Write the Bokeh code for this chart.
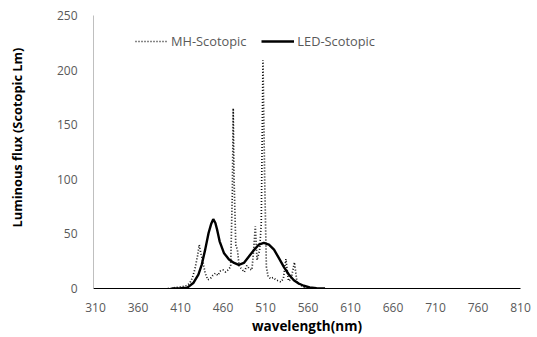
from bokeh.plotting import figure
from bokeh.models import Range1d, FixedTicker, Legend, LegendItem, Title, LinearAxis
from bokeh.embed import file_html
from bokeh.resources import INLINE

# ---- data ----
mh_wavelength = [395, 400, 405, 410, 415, 418, 421, 424, 427, 430, 432, 434, 436.5, 439, 442,
                 445, 448, 451, 454, 457, 460, 463, 466, 469, 471, 472, 473, 475, 477, 479,
                 482, 485, 488, 491, 494, 496, 498, 500, 503, 505, 507, 509, 511, 513, 516,
                 519, 522, 525, 528, 531, 534, 537, 540, 544, 547, 551, 556, 562, 570]
mh_scotopic = [0, 0.5, 1, 1.5, 2, 3, 5, 10, 18, 30, 40, 32, 24, 14, 8,
               9, 12, 14, 12, 16, 17, 15, 17, 20, 90, 165, 100, 40, 35, 20,
               18, 15, 21, 18, 17, 35, 57, 26, 35, 60, 209, 100, 20, 11, 9,
               10, 8, 7, 6, 9, 27, 7, 8, 24, 6, 3, 1, 0.5, 0]

led_wavelength = [400, 410, 418, 425, 431, 435, 439, 443, 446, 448.5, 451, 453, 456, 461, 467,
                  473, 478.5, 484.5, 490, 496, 502, 508, 514, 520, 525.6, 531.5, 537.4, 543.3,
                  549, 555, 562, 570, 580]
led_scotopic = [0, 0.2, 0.8, 5, 12.8, 21.9, 35.6, 50.8, 59, 63.5, 60, 54, 43.2, 32.6, 26.5,
                23.4, 21.6, 23.4, 28.9, 34.9, 40.1, 41.7, 40.1, 35.6, 28, 19.8, 12.8, 7.6,
                4.6, 2.5, 1, 0.3, 0]

x_ticks = [310, 360, 410, 460, 510, 560, 610, 660, 710, 760, 810]
y_ticks = [0, 50, 100, 150, 200, 250]
x_title = "wavelength(nm)"
y_title = "Luminous flux (Scotopic Lm)"

x_lo, x_hi = 307.6, 810
p = figure(width=537, height=337, output_backend="svg", toolbar_location=None,
           x_range=Range1d(x_lo, x_hi), y_range=Range1d(0, 250),
           min_border_left=93, min_border_right=17, min_border_top=15, min_border_bottom=48)
p.outline_line_color = None
p.xgrid.grid_line_color = None
p.ygrid.grid_line_color = None

r_mh = p.line(mh_wavelength, mh_scotopic, line_color="#111111", line_width=1.7, line_dash="1 2")
r_led = p.line(led_wavelength, led_scotopic, line_color="black", line_width=2.4)

tick_font = "Open Sans"
p.xaxis.ticker = FixedTicker(ticks=x_ticks)
p.yaxis.ticker = FixedTicker(ticks=y_ticks)
for ax in (p.xaxis[0], p.yaxis[0]):
    ax.major_tick_line_color = None
    ax.minor_tick_line_color = None
    ax.major_label_text_font = tick_font
    ax.major_label_text_font_size = "12px"
    ax.major_label_text_color = "#595959"
    ax.axis_label_text_font = tick_font
    ax.axis_label_text_font_style = "bold"
    ax.axis_label_text_color = "black"

p.xaxis.axis_line_color = "black"
p.yaxis.axis_line_color = "#bfbfbf"
p.xaxis.major_label_standoff = 8
p.yaxis.major_label_standoff = 10
p.xaxis.axis_label = x_title
p.xaxis.axis_label_text_font_size = "13.5px"
p.xaxis.axis_label_standoff = 2

# invisible spacer axis (one hidden tick, empty label, no line) between the y axis and its title
spacer = LinearAxis(ticker=FixedTicker(ticks=[y_ticks[2]]), axis_line_color=None,
                    major_tick_line_color=None, minor_tick_line_color=None,
                    major_tick_out=26, major_tick_in=0, minor_tick_out=0, minor_tick_in=0,
                    major_label_standoff=0, major_label_overrides={y_ticks[2]: ""})
p.add_layout(spacer, "left")

ytitle = Title(text=y_title, align="left", offset=61, standoff=4, vertical_align="bottom",
               text_font=tick_font, text_font_style="bold", text_font_size="12.8px",
               text_color="black")
p.add_layout(ytitle, "left")

legend = Legend(items=[LegendItem(label="MH-Scotopic", renderers=[r_mh]),
                       LegendItem(label="LED-Scotopic", renderers=[r_led])],
                orientation="horizontal", location=(42, 237),
                glyph_width=33, label_standoff=3, spacing=15, padding=0, margin=0,
                border_line_alpha=0, background_fill_alpha=0,
                label_text_font=tick_font, label_text_font_size="12.8px",
                label_text_color="#595959")
p.add_layout(legend, "center")

open("out.html", "w").write(file_html(p, INLINE))
